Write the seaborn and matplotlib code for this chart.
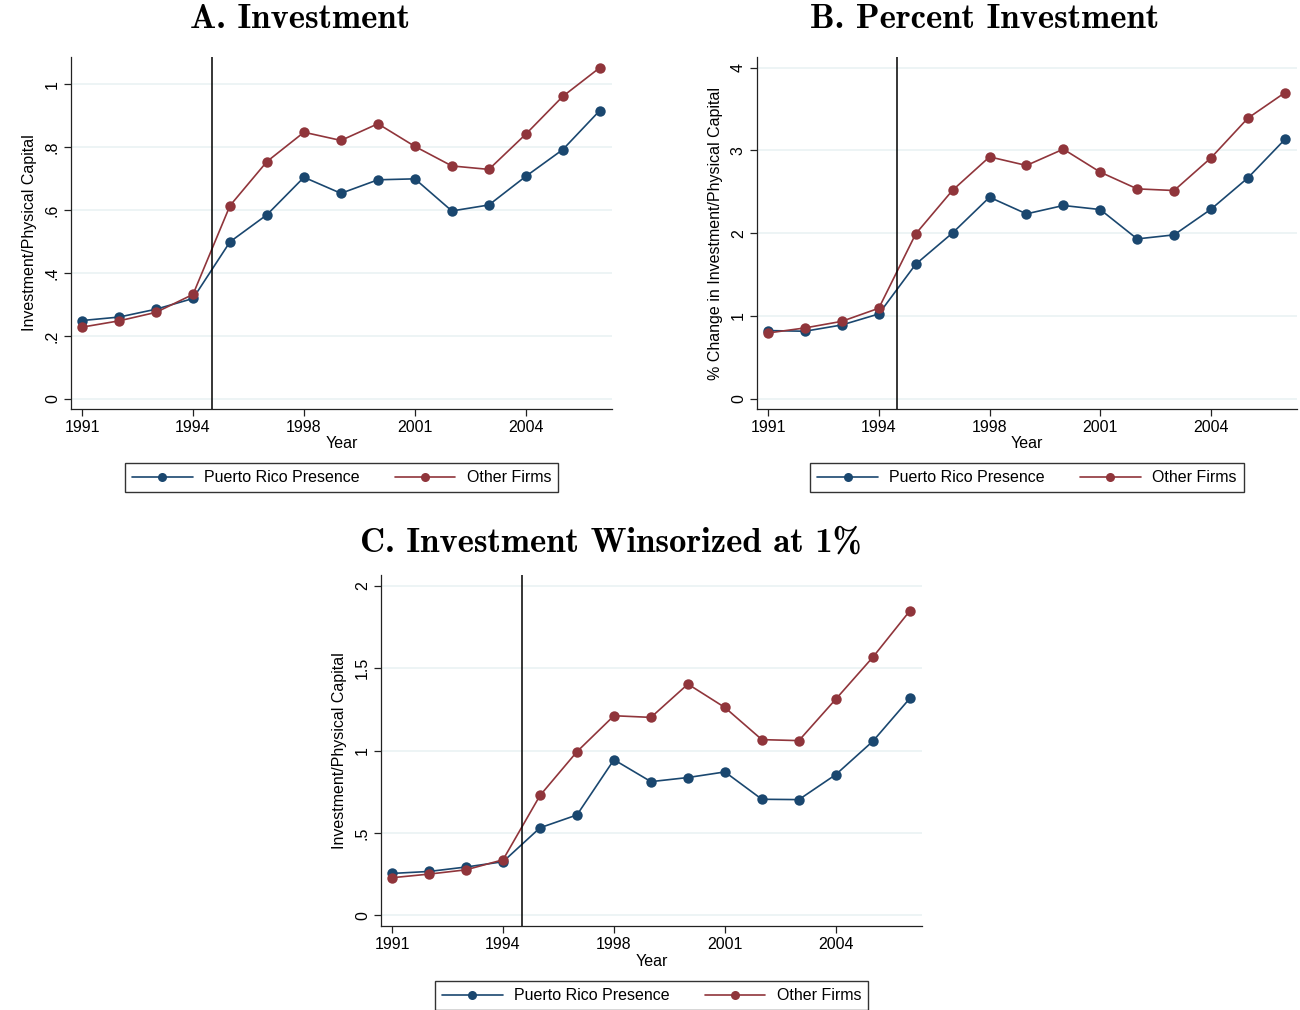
import numpy as np
import pandas as pd
import matplotlib
matplotlib.use("Agg")
import matplotlib.pyplot as plt
import seaborn as sns

sns.set_style("white", {"xtick.bottom": True, "ytick.left": True,
                        "text.color": "black", "axes.labelcolor": "black",
                        "xtick.color": "black", "ytick.color": "black"})
plt.rcParams["font.family"] = ["Liberation Sans", "DejaVu Sans"]

# ---- data -------------------------------------------------------------
periods = [0, 1, 2, 3, 4, 5, 6, 7, 8, 9, 10, 11, 12, 13, 14]
tick_pos = [0, 3, 6, 9, 12]
tick_labels = ["1991", "1994", "1998", "2001", "2004"]
policy_break = 3.5

groups = ["Puerto Rico Presence", "Other Firms"]

inv_pr = [0.249, 0.260, 0.285, 0.319, 0.499, 0.585, 0.704, 0.653, 0.696,
          0.699, 0.597, 0.616, 0.707, 0.792, 0.916]
inv_other = [0.228, 0.248, 0.275, 0.332, 0.614, 0.754, 0.847, 0.821, 0.874,
             0.802, 0.740, 0.729, 0.841, 0.961, 1.052]

pct_pr = [0.823, 0.815, 0.891, 1.024, 1.625, 2.004, 2.435, 2.234, 2.335,
          2.286, 1.931, 1.980, 2.290, 2.669, 3.133]
pct_other = [0.794, 0.855, 0.935, 1.093, 1.992, 2.520, 2.923, 2.819, 3.016,
             2.738, 2.536, 2.516, 2.911, 3.391, 3.698]

win_pr = [0.254, 0.266, 0.293, 0.325, 0.531, 0.609, 0.944, 0.811, 0.836,
          0.870, 0.704, 0.702, 0.854, 1.056, 1.316]
win_other = [0.228, 0.250, 0.276, 0.337, 0.727, 0.993, 1.211, 1.201, 1.403,
             1.261, 1.066, 1.060, 1.312, 1.566, 1.847]

yticks_a = [0, 0.2, 0.4, 0.6, 0.8, 1.0]
ylabels_a = ["0", ".2", ".4", ".6", ".8", "1"]
yticks_b = [0, 1, 2, 3, 4]
ylabels_b = ["0", "1", "2", "3", "4"]
yticks_c = [0, 0.5, 1.0, 1.5, 2.0]
ylabels_c = ["0", ".5", "1", "1.5", "2"]

NAVY = "#1A476F"
MAROON = "#90353B"
GRID = "#EAF2F3"
AXIS = "#222222"

W, H = 1300, 1010
fig = plt.figure(figsize=(W / 100, H / 100), dpi=100)
fig.patch.set_facecolor("white")


def px_axes(left, top, right, bottom):
    return fig.add_axes([left / W, 1 - bottom / H, (right - left) / W, (bottom - top) / H])


def long_frame(pr, other):
    return pd.DataFrame({
        "period": periods * 2,
        "value": pr + other,
        "group": [groups[0]] * len(pr) + [groups[1]] * len(other),
    })


def panel(ax, pr, other, yticks, ylabels, ylim, ylabel, title, title_x, title_y,
          legend_y):
    df = long_frame(pr, other)
    for yt in yticks:
        ax.axhline(yt, color=GRID, lw=1.2, zorder=0)
    sns.lineplot(data=df, x="period", y="value", hue="group", hue_order=groups,
                 palette=[NAVY, MAROON], marker="o", markersize=7.5,
                 markeredgewidth=0, linewidth=1.2, ax=ax, legend=False,
                 zorder=3)
    ax.axvline(policy_break, color="black", lw=1.1, zorder=4)
    ax.set_xlim(-0.3, 14.33)
    ax.set_ylim(*ylim)
    ax.set_xticks(tick_pos)
    ax.set_xticklabels(tick_labels)
    ax.set_yticks(yticks)
    ax.set_yticklabels(ylabels, rotation=90, va="center")
    ax.tick_params(axis="both", which="major", direction="out", length=5,
                   width=0.9, color=AXIS, labelcolor="black", labelsize=11.5,
                   pad=3, bottom=True, left=True)
    ax.set_xlabel("Year", fontsize=11.5, labelpad=1, color="black")
    ax.set_ylabel(ylabel, fontsize=11.5, labelpad=6, color="black")
    for side in ("top", "right"):
        ax.spines[side].set_visible(False)
    for side in ("left", "bottom"):
        ax.spines[side].set_color(AXIS)
        ax.spines[side].set_linewidth(0.9)

    handles = [plt.Line2D([], [], color=c, lw=1.2, marker="o", markersize=6.5,
                          markeredgewidth=0) for c in (NAVY, MAROON)]
    bbox = ax.get_position()
    leg = fig.legend(handles, groups, loc="upper center", ncol=2,
                     bbox_to_anchor=((bbox.x0 + bbox.x1) / 2, 1 - legend_y / H),
                     bbox_transform=fig.transFigure, fontsize=11.5,
                     frameon=True, fancybox=False, edgecolor="black",
                     handlelength=3.8, columnspacing=2.2, handletextpad=0.7,
                     borderpad=0.45, borderaxespad=0)
    leg.get_frame().set_linewidth(1.0)
    for t in leg.get_texts():
        t.set_color("black")

    fig.text(title_x / W, 1 - title_y / H, title, ha="center", va="center",
             fontsize=25, fontweight="bold", color="black",
             family=["cmb10", "DejaVu Serif"])


ax_a = px_axes(71, 57, 612, 409)
panel(ax_a, inv_pr, inv_other, yticks_a, ylabels_a, (-0.032, 1.086),
      "Investment/Physical Capital", "A. Investment", 300, 20, 463)

ax_b = px_axes(757, 57, 1297, 409)
panel(ax_b, pct_pr, pct_other, yticks_b, ylabels_b, (-0.125, 4.13),
      "% Change in Investment/Physical Capital", "B. Percent Investment",
      985, 20, 463)

ax_c = px_axes(381, 575, 922, 926)
panel(ax_c, win_pr, win_other, yticks_c, ylabels_c, (-0.065, 2.065),
      "Investment/Physical Capital", "C. Investment Winsorized at 1%",
      611, 543, 981)

fig.savefig("out.png", dpi=100, facecolor="white")
